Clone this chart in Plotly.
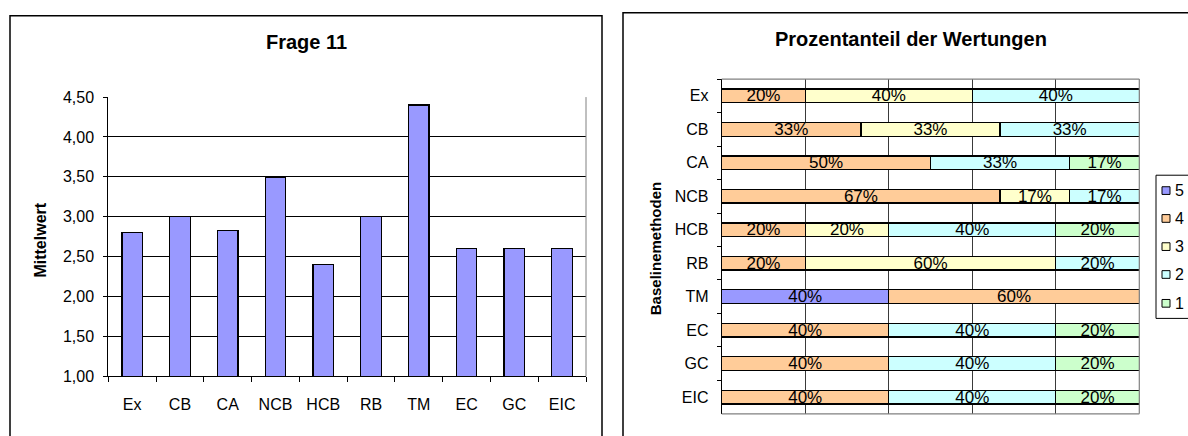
import plotly.graph_objects as go

# --- data -------------------------------------------------------------
methods = ["Ex", "CB", "CA", "NCB", "HCB", "RB", "TM", "EC", "GC", "EIC"]

# mean rating per method (Frage 11)
mean_rating = [2.80, 3.00, 2.83, 3.50, 2.40, 3.00, 4.40, 2.60, 2.60, 2.60]

# share of each rating per method, in percent (None = not given)
share_5 = [None, None, None, None, None, None, 40, None, None, None]
share_4 = [20, 33.33, 50, 66.67, 20, 20, 60, 40, 40, 40]
share_3 = [40, 33.33, None, 16.67, 20, 60, None, None, None, None]
share_2 = [40, 33.33, 33.33, 16.67, 40, 20, None, 40, 40, 40]
share_1 = [None, None, 16.67, None, 20, None, None, 20, 20, 20]

rating_labels = ["5", "4", "3", "2", "1"]
rating_colors = ["#9999FF", "#FFCC99", "#FFFFCC", "#CCFFFF", "#CCFFCC"]
rating_shares = [share_5, share_4, share_3, share_2, share_1]

# --- figure -----------------------------------------------------------
W, H = 1188, 436
FONT = "Liberation Sans, Arial, sans-serif"


def px_x(v):
    return v / W


def px_y(v):
    return 1 - v / H


fig = go.Figure()

# left: mean rating bars
fig.add_trace(go.Bar(
    x=methods, y=mean_rating, width=0.43,
    marker=dict(color="#9999FF", line=dict(color="black", width=1.3)),
    xaxis="x", yaxis="y", showlegend=False,
))

# right: stacked shares of ratings
for lab, col, vals in zip(rating_labels, rating_colors, rating_shares):
    fig.add_trace(go.Bar(
        y=methods, x=vals, orientation="h", width=0.41, name=lab,
        marker=dict(color=col, line=dict(color="black", width=1.3)),
        texttemplate="%{x:.0f}%", textposition="inside",
        insidetextanchor="middle", textangle=0,
        textfont=dict(color="black", size=17, family=FONT),
        xaxis="x2", yaxis="y2", showlegend=False,
    ))

shapes = []
annotations = []


def label(text, x, y, size, angle=0, anchor="center"):
    annotations.append(dict(text=text, xref="paper", yref="paper",
                            x=px_x(x), y=px_y(y), xanchor=anchor,
                            yanchor="middle", showarrow=False,
                            textangle=angle,
                            font=dict(size=size, family=FONT, color="black")))


# chart frames
shapes.append(dict(type="rect", xref="paper", yref="paper",
                   x0=px_x(10), x1=px_x(602), y0=px_y(8), y1=px_y(460),
                   line=dict(color="black", width=1.5)))
shapes.append(dict(type="rect", xref="paper", yref="paper",
                   x0=px_x(623), x1=px_x(1200), y0=px_y(5), y1=px_y(460),
                   line=dict(color="black", width=1.5)))

# plot-area borders (grey)
shapes.append(dict(type="line", xref="x domain", yref="y domain",
                   x0=1, x1=1, y0=0, y1=1, line=dict(color="#808080", width=1)))
for (x0, x1, y0, y1) in [(0, 1, 1, 1), (1, 1, 0, 1), (0, 1, 0, 0)]:
    shapes.append(dict(type="line", xref="x2 domain", yref="y2 domain",
                       x0=x0, x1=x1, y0=y0, y1=y1,
                       line=dict(color="#808080", width=1.2)))

# titles
label("<b>Frage 11</b>", 306, 35, 20)
label("<b>Prozentanteil der Wertungen</b>", 911, 32, 20)
label("<b>Mittelwert</b>", 41, 242, 16, angle=-90)
label("<b>Baselinemethoden</b>", 655, 251, 15, angle=-90)

# legend drawn as small swatches
legend_y = [190, 219, 248.3, 277.3, 307.3]
shapes.append(dict(type="rect", xref="paper", yref="paper",
                   x0=px_x(1156), x1=px_x(1200), y0=px_y(174), y1=px_y(323),
                   line=dict(color="black", width=1), fillcolor="white"))
for lab, col, yy in zip(rating_labels, rating_colors, legend_y):
    shapes.append(dict(type="rect", xref="paper", yref="paper",
                       x0=px_x(1162), x1=px_x(1170),
                       y0=px_y(yy - 4), y1=px_y(yy + 4),
                       line=dict(color="black", width=1), fillcolor=col))
    label(lab, 1173, yy, 16, anchor="left")

fig.update_layout(
    width=W, height=H,
    margin=dict(l=0, r=0, t=0, b=0),
    paper_bgcolor="white", plot_bgcolor="white",
    separators=",.",
    barmode="stack",
    font=dict(family=FONT, size=16, color="black"),
    uniformtext=dict(minsize=17, mode="show"),
    xaxis=dict(
        domain=[px_x(108.3), px_x(586)],
        anchor="y",
        showline=True, linecolor="black", linewidth=1,
        ticks="outside", tickson="boundaries", ticklen=5, tickcolor="black",
        showgrid=False, ticklabelstandoff=13,
        tickfont=dict(size=16, family=FONT, color="black"),
    ),
    yaxis=dict(
        domain=[px_y(383.3), px_y(92.7)],
        anchor="x",
        range=[1, 4.5], dtick=0.5, tick0=1, tickformat=".2f",
        showline=True, linecolor="black", linewidth=1,
        ticks="outside", ticklen=4, tickcolor="black",
        showgrid=True, gridcolor="black", gridwidth=1,
        zeroline=False, ticklabelstandoff=6,
        tickfont=dict(size=16, family=FONT, color="black"),
    ),
    xaxis2=dict(
        domain=[px_x(721.7), px_x(1139.3)],
        anchor="y2",
        range=[0, 100], dtick=20, tick0=0,
        showticklabels=False, showline=False,
        showgrid=True, gridcolor="#3a3a3a", gridwidth=1,
        zeroline=False, ticks="",
    ),
    yaxis2=dict(
        domain=[px_y(422.3), px_y(74)],
        anchor="x2",
        categoryorder="array", categoryarray=methods, autorange="reversed",
        showline=True, linecolor="black", linewidth=1,
        ticks="outside", tickson="boundaries", ticklen=4, tickcolor="black",
        showgrid=False, ticklabelstandoff=9,
        tickfont=dict(size=16, family=FONT, color="black"),
    ),
    shapes=shapes,
    annotations=annotations,
)

fig.write_html("out.html")
